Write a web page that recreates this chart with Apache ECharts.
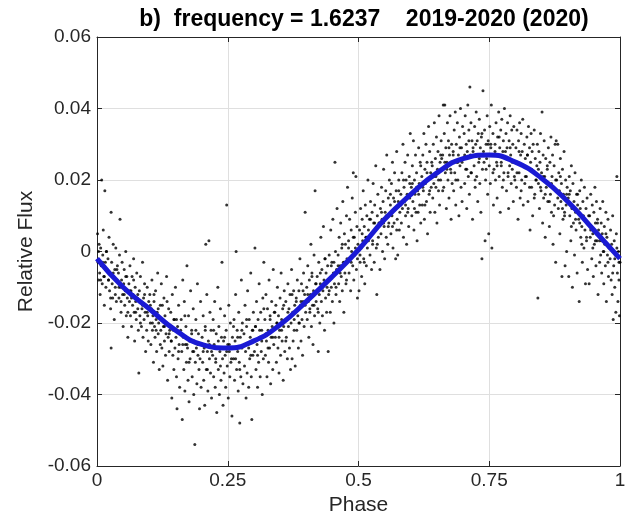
<!DOCTYPE html>
<html>
<head>
<meta charset="utf-8">
<script src="https://cdn.jsdelivr.net/npm/echarts@6/dist/echarts.min.js"></script>
<style>
  html, body { margin: 0; padding: 0; background: #fff; }
  #main-chart-1 { width: 640px; height: 522px; }
</style>
</head>
<body>
<div id="main-chart-1"></div>
<script>
// Eksen ayarlari
const titleText = "b)  frequency = 1.6237    2019-2020 (2020)";
const xTicks = [0, 0.25, 0.5, 0.75, 1];
const yTicks = [-0.06, -0.04, -0.02, 0, 0.02, 0.04, 0.06];

// Fit egrisi (faz, akı)
const fitPhase = [0, 0.05, 0.10, 0.15, 0.20, 0.25, 0.30, 0.35, 0.40, 0.45, 0.50, 0.55, 0.60, 0.65, 0.70, 0.75, 0.80, 0.85, 0.90, 0.95, 1.00];
const fitFlux = [-0.002, -0.010, -0.016, -0.022, -0.026, -0.027, -0.025, -0.0205, -0.014, -0.007, 0.0005, 0.009, 0.016, 0.022, 0.026, 0.027, 0.025, 0.0205, 0.014, 0.006, -0.002];

// Olcum noktalari [faz*1000, akı*1000], ceyrek ceyrek
const obsQ1 = [
  [1,5],[2,-3],[3,-8],[4,2],[5,-6],[6,-12],[7,1],[8,-4],[9,20],[10,-9],[11,-1],[12,6],[13,-7],[14,-15],[15,17],[16,-3],[17,-10],[18,0],[19,-5],
  [21,-2],[22,-8],[23,4],[24,-11],[25,-6],[26,-16],[27,11],[27,-27],[28,-3],[29,-9],[30,-13],[31,2],[32,-7],[33,-19],[34,-5],[35,-10],[36,1],[37,-14],[38,-8],[39,-4],
  [41,-6],[42,-13],[43,-1],[44,9],[45,-10],[46,-17],[47,-8],[48,-3],[49,-12],[50,-21],[51,-9],[52,-5],[53,-15],[54,-11],[55,0],[56,-18],[57,-7],[58,-13],[59,-24],
  [61,-9],[62,-14],[63,-4],[64,-18],[65,-11],[66,-21],[67,-7],[68,-15],[69,-12],[70,-2],[71,-17],[72,-25],[73,-10],[74,-14],[75,-19],[76,-6],[77,-13],[78,-16],[79,-22],[80,-34],
  [81,-11],[82,-18],[83,-7],[84,-14],[85,-21],[86,-16],[87,-3],[88,-24],[89,-13],[90,-19],[91,-9],[92,-17],[93,-28],[94,-15],[95,-22],[96,-10],[97,-18],[98,-25],[99,-14],
  [101,-12],[102,-20],[103,-26],[104,-16],[105,-8],[106,-22],[107,-18],[108,-31],[109,-14],[110,-21],[111,-24],[112,-11],[113,-19],[114,-28],[115,-17],[116,-6],[117,-23],[118,-20],[119,-33],
  [121,-15],[122,-22],[123,-9],[124,-27],[125,-19],[126,-32],[127,-21],[128,-13],[129,-25],[130,-18],[131,-29],[132,-23],[133,-7],[134,-20],[135,-36],[136,-24],[137,-16],[138,-28],[139,-22],
  [141,-17],[142,-25],[143,-41],[144,-12],[145,-29],[146,-22],[147,-33],[148,-19],[149,-27],[150,-10],[151,-24],[152,-35],[153,-44],[154,-21],[155,-30],[156,-15],[157,-26],[158,-38],[159,-23],
  [161,-19],[162,-28],[163,-47],[164,-8],[165,-24],[166,-33],[167,-14],[168,-39],[169,-26],[170,-21],[171,-31],[172,-4],[173,-27],[174,-36],[175,-18],[176,-42],[177,-25],[178,-30],[179,-11],
  [181,-22],[182,-35],[183,-28],[184,-16],[185,-40],[186,-25],[187,-54],[188,-31],[189,-19],[190,-27],[191,-37],[192,-9],[193,-29],[194,-23],[195,-33],[196,-44],[197,-26],[198,-14],[199,-38],
  [201,-24],[202,-31],[203,-18],[204,-36],[205,-27],[206,-43],[207,-21],[208,2],[209,-33],[210,-12],[211,-28],[212,-39],[213,-25],[214,3],[215,-30],[216,-17],[217,-34],[218,-22],[219,-41],
  [221,-29],[222,-19],[223,-35],[224,-26],[225,-14],[226,-38],[227,-31],[228,-23],[229,-45],[230,-27],[231,-10],[232,-33],[233,-21],[234,-40],[235,-28],[236,-16],[237,-36],[238,-24],[239,-3],[240,-30],[241,-43],
  [242,-25],[243,-34],[244,-18],[245,-29],[246,-38],[247,-22],[248,13],[249,-32]
];
const obsQ2 = [
  [250,-26],[251,-41],[252,-15],[253,-28],[254,-35],[255,-20],[256,-31],[257,-27],[258,-46],[259,-24],
  [261,-30],[262,-19],[263,-36],[264,-25],[265,-12],[266,0],[267,-33],[268,-22],[269,-28],[270,-39],[271,-17],[272,-31],[273,-48],[274,-24],[275,-35],[276,-8],[277,-27],[278,-20],[279,-37],
  [281,-23],[282,-32],[283,-15],[284,-28],[285,-41],[286,-21],[287,-34],[288,-11],[289,-26],[290,-38],[291,-19],[292,-30],[293,-24],[294,-6],[295,-35],[296,-47],[297,-22],[298,-29],[299,-17],
  [301,-28],[302,1],[303,-21],[304,-33],[305,-14],[306,-26],[307,-38],[308,-19],[309,-31],[310,-9],[311,-24],[312,-35],[313,-17],[314,-28],[315,-22],[316,-40],[317,-13],[318,-30],[319,-3],
  [321,-19],[322,-29],[323,-12],[324,-25],[325,-35],[326,-16],[327,-22],[328,-31],[329,-8],[330,-27],[331,-18],[332,-37],[333,-24],[334,-14],[335,-21],[336,-33],[337,-5],[338,-26],[339,-17],
  [341,-24],[342,-15],[343,-31],[344,-20],[345,-10],[346,-27],[347,-18],[348,-34],[349,-22],[350,-13],[351,-29],[352,-6],[353,-19],[354,-25],[355,-16],[356,-36],[357,-21],[358,-11],[359,-28],
  [361,-14],[362,-24],[363,-19],[364,-30],[365,-9],[366,-21],[367,-16],[368,-27],[369,-12],[370,-33],[371,-20],[372,-5],[373,-30],[374,-17],[375,-25],[376,-11],[377,-22],[378,-15],[379,-32],
  [381,-13],[382,-22],[383,-8],[384,-18],[385,-27],[386,-11],[387,-20],[388,-2],[389,-15],[390,-25],[391,-9],[392,-19],[393,-29],[394,-14],[395,-6],[396,-21],[397,-12],[398,11],[399,-17],
  [401,-10],[402,-19],[403,-4],[404,-14],[405,-24],[406,-8],[407,-17],[408,-12],[409,2],[410,-21],[411,-6],[412,-15],[413,-26],[414,-11],[415,-1],[416,-18],[417,17],[418,-9],[419,-14],
  [421,-7],[422,-16],[423,-28],[424,-3],[425,-12],[426,-20],[427,-9],[428,4],[429,-14],[430,-5],[431,-18],[432,-11],[433,7],[434,-8],[435,-22],[436,-2],[437,-13],[438,-6],[439,-17],
  [441,-4],[442,-28],[443,-12],[444,-1],[445,-8],[446,-17],[447,6],[448,-10],[449,-3],[450,-14],[451,9],[452,-6],[453,-20],[454,-9],[455,25],[456,0],[457,-12],[458,-5],[459,12],
  [461,-1],[462,-9],[463,4],[464,-14],[465,-4],[466,8],[467,-7],[468,1],[469,-11],[470,14],[471,-3],[472,-17],[473,5],[474,-6],[475,2],[476,-9],[477,10],[478,-2],[479,18],
  [481,3],[482,-6],[483,9],[484,-2],[485,-11],[486,6],[487,0],[488,15],[489,-4],[490,22],[491,-8],[492,4],[493,-1],[494,11],[495,21],[496,-5],[497,7],[498,-13],[499,2]
];
const obsQ3 = [
  [501,-11],[502,6],[503,-3],[504,12],[505,1],[506,-7],[507,9],[508,3],[509,17],[510,-2],[511,7],[512,-9],[513,13],[514,4],[515,-4],[516,10],[517,1],[518,20],[519,6],
  [521,9],[522,-1],[523,14],[524,5],[525,-5],[526,11],[527,3],[528,19],[529,8],[530,-3],[531,13],[532,6],[533,24],[534,1],[535,-12],[536,10],[537,16],[538,4],[539,8],
  [541,-5],[542,12],[543,5],[544,18],[545,9],[546,0],[547,14],[548,23],[549,7],[550,-2],[551,11],[552,17],[553,4],[554,27],[555,10],[556,2],[557,15],[558,8],[559,20],
  [561,13],[562,5],[563,19],[564,10],[565,25],[566,1],[567,15],[568,8],[569,22],[570,12],[571,-2],[572,17],[573,28],[574,9],[575,-1],[576,14],[577,20],[578,6],[579,11],
  [581,16],[582,8],[583,22],[584,12],[585,30],[586,4],[587,18],[588,14],[589,25],[590,10],[591,20],[592,2],[593,16],[594,27],[595,12],[596,7],[597,21],[598,15],[599,33],
  [601,18],[602,10],[603,24],[604,14],[605,31],[606,6],[607,20],[608,16],[609,27],[610,11],[611,22],[612,3],[613,17],[614,11],[615,29],[616,19],[617,13],[618,25],[619,8],
  [621,21],[622,13],[623,27],[624,17],[625,33],[626,9],[627,23],[628,19],[629,30],[630,14],[631,25],[632,5],[633,20],[634,35],[635,16],[636,28],[637,11],[638,22],[639,18],
  [641,24],[642,15],[643,30],[644,19],[645,36],[646,11],[647,26],[648,21],[649,32],[650,8],[651,23],[652,28],[653,17],[654,38],[655,13],[656,25],[657,20],[658,31],[659,26],
  [661,27],[662,41],[663,18],[664,33],[665,41],[666,22],[667,29],[668,12],[669,25],[670,36],[671,20],[672,31],[673,15],[674,27],[675,38],[676,23],[677,9],[678,30],[679,19],
  [681,28],[682,17],[683,34],[684,22],[685,39],[686,13],[687,30],[688,25],[689,36],[690,20],[691,27],[692,10],[693,32],[694,24],[695,40],[696,18],[697,29],[698,14],[699,35],
  [701,26],[702,33],[703,19],[704,38],[705,23],[706,30],[707,12],[708,28],[709,41],[710,21],[711,34],[712,16],[713,46],[714,27],[715,36],[716,22],[717,31],[718,9],[719,29],
  [721,24],[722,35],[723,18],[724,30],[725,39],[726,21],[727,27],[728,14],[729,33],[730,25],[731,37],[732,19],[733,29],[734,11],[735,32],[736,-2],[737,23],[738,45],[739,28],
  [741,34],[742,3],[743,20],[744,30],[745,26],[746,38],[747,16],[748,31],[749,5]
];
const obsQ4 = [
  [750,24],[751,35],[752,19],[753,29],[754,41],[755,1],[756,27],[757,33],[758,13],[759,23],
  [761,30],[762,20],[763,36],[764,25],[765,15],[766,32],[767,27],[768,39],[769,21],[770,29],[771,11],[772,34],[773,24],[774,37],[775,18],[776,28],[777,31],[778,22],[779,40],
  [781,26],[782,33],[783,17],[784,29],[785,36],[786,21],[787,12],[788,31],[789,24],[790,38],[791,27],[792,19],[793,34],[794,23],[795,30],[796,14],[797,35],[798,25],[799,20],
  [801,29],[802,18],[803,34],[804,25],[805,9],[806,31],[807,22],[808,36],[809,15],[810,27],[811,33],[812,20],[813,28],[814,37],[815,13],[816,24],[817,30],[818,19],[819,26],
  [821,21],[822,32],[823,27],[824,14],[825,35],[826,23],[827,29],[828,6],[829,25],[830,33],[831,18],[832,28],[833,10],[834,30],[835,22],[836,34],[837,16],[838,26],[839,20],
  [841,24],[842,30],[843,-13],[844,19],[845,28],[846,12],[847,25],[848,33],[849,17],[850,22],[851,39],[852,8],[853,27],[854,15],[855,31],[856,21],[857,4],[858,26],[859,18],
  [861,23],[862,14],[863,29],[864,19],[865,7],[866,25],[867,16],[868,32],[869,11],[870,21],[871,27],[872,2],[873,18],[874,24],[875,13],[876,30],[877,-3],[878,31],[879,20],
  [881,30],[882,12],[883,22],[884,17],[885,5],[886,26],[887,14],[888,19],[889,-7],[890,23],[891,9],[892,16],[893,28],[894,11],[895,-4],[896,20],[897,13],[898,0],[899,18],
  [901,15],[902,-7],[903,21],[904,10],[905,17],[906,3],[907,24],[908,12],[909,-10],[910,19],[911,8],[912,14],[913,-1],[914,22],[915,11],[916,6],[917,16],[918,-6],[919,13],
  [921,9],[922,-14],[923,17],[924,12],[925,4],[926,20],[927,7],[928,-3],[929,14],[930,10],[931,1],[932,18],[933,6],[934,-9],[935,12],[936,3],[937,15],[938,-5],[939,8],
  [941,-9],[942,10],[943,4],[944,16],[945,7],[946,-2],[947,13],[948,5],[949,-7],[950,11],[951,2],[952,18],[953,8],[954,-4],[955,14],[956,3],[957,9],[958,-12],[959,6],
  [961,3],[962,12],[963,-1],[964,8],[965,-6],[966,5],[967,14],[968,0],[969,-9],[970,7],[971,2],[972,-4],[973,11],[974,-14],[975,4],[976,-1],[977,9],[978,-7],[979,1],
  [981,-2],[982,6],[983,-8],[984,2],[985,-12],[986,10],[987,-19],[988,-4],[989,3],[990,-10],[991,-1],[992,-17],[993,5],[994,21],[995,-6],[996,-14],[997,0],[998,-8],[999,-18],[1000,-3]
];
// egri cevresindeki yogun noktalar
const obsCore = [
  [3,0],[7,-8],[11,-3],[14,-7],[18,0],[22,-8],[26,-13],[31,-6],[35,-12],[38,-5],[42,-10],[46,-14],
  [52,-12],[55,-7],[59,-17],[63,-11],[66,-13],[70,-8],[74,-17],[78,-12],[83,-20],[87,-15],[91,-12],[96,-17],
  [102,-15],[106,-20],[109,-12],[113,-22],[117,-16],[121,-26],[125,-15],[129,-21],[134,-14],[138,-23],[142,-25],[147,-19],
  [152,-19],[156,-28],[160,-22],[164,-26],[168,-18],[172,-26],[176,-31],[181,-23],[185,-28],[189,-22],[193,-26],[197,-30],
  [203,-28],[207,-22],[211,-33],[215,-26],[219,-28],[223,-22],[227,-30],[232,-25],[236,-32],[240,-27],[244,-24],[248,-28],
  [253,-26],[257,-30],[261,-21],[265,-30],[269,-24],[273,-33],[277,-22],[282,-26],[286,-19],[290,-27],[294,-29],[298,-22],
  [303,-21],[307,-29],[311,-22],[315,-25],[319,-16],[323,-23],[327,-27],[331,-19],[336,-24],[340,-17],[344,-20],[348,-24],
  [353,-22],[357,-15],[361,-25],[365,-17],[369,-18],[373,-12],[377,-19],[381,-14],[386,-20],[390,-14],[394,-11],[398,-15],
  [403,-12],[407,-16],[411,-7],[415,-15],[419,-9],[423,-17],[427,-6],[431,-10],[436,-2],[440,-10],[444,-11],[448,-4],
  [453,-3],[457,-10],[461,-4],[465,-6],[469,2],[473,-3],[477,-8],[481,1],[486,-3],[490,4],[494,1],[498,-2],
  [503,-1],[507,5],[511,-3],[515,4],[519,3],[523,9],[527,2],[531,8],[536,2],[540,8],[544,11],[548,8],
  [553,10],[557,7],[561,16],[565,7],[569,14],[573,6],[577,17],[581,13],[586,20],[590,13],[594,11],[598,19],
  [603,19],[607,12],[611,18],[615,16],[619,24],[623,18],[627,13],[631,22],[636,17],[640,25],[644,21],[648,18],
  [653,20],[657,27],[661,17],[665,25],[669,23],[673,29],[677,22],[681,27],[686,20],[690,25],[694,29],[698,25],
  [703,27],[707,23],[711,31],[715,22],[719,28],[723,20],[727,31],[731,26],[736,33],[740,25],[744,23],[748,30],
  [753,30],[757,22],[761,28],[765,24],[769,32],[773,25],[777,20],[781,28],[786,22],[790,29],[794,25],[798,21],
  [803,22],[807,28],[811,17],[815,24],[819,21],[823,27],[827,18],[831,23],[836,15],[840,20],[844,23],[848,18],
  [853,21],[857,16],[861,24],[865,14],[869,19],[873,10],[877,20],[881,15],[886,21],[890,12],[894,10],[898,16],
  [903,16],[907,7],[911,12],[915,9],[919,16],[923,8],[927,2],[931,9],[936,4],[940,10],[944,6],[948,1],
  [953,3],[957,8],[961,-3],[965,3],[969,0],[973,5],[977,-3],[981,1],[986,-6],[990,-2],[994,1],[998,-3]
];

// binde birlik degerleri gercek birime cevir
const obsPoints = obsQ1.concat(obsQ2, obsQ3, obsQ4, obsCore).map(p => [p[0] / 1000, p[1] / 1000]);
const fitPoints = fitPhase.map((p, i) => [p, fitFlux[i]]);

const FONT = "'Liberation Sans', Arial, Helvetica, sans-serif";
const AXIS_COLOR = "#262626";

const chart = echarts.init(document.getElementById("main-chart-1"), null, { renderer: "canvas" });

// kutu kenarlari icin ortak eksen stili (MATLAB "box on")
const boxAxis = {
    axisLine: { show: true, onZero: false, lineStyle: { color: AXIS_COLOR, width: 1 } },
    axisTick: { show: true, inside: true, length: 5, lineStyle: { color: AXIS_COLOR } },
    axisLabel: { show: false },
    splitLine: { show: false }
};

chart.setOption({
    animation: false,
    backgroundColor: "#ffffff",
    title: {
        text: titleText,
        left: 359,
        textAlign: "center",
        top: 3,
        textStyle: { fontFamily: FONT, fontSize: 23, fontWeight: "bold", color: "#000" }
    },
    grid: { left: 97, right: 20, top: 37, bottom: 56 },
    xAxis: [
        Object.assign({
            type: "value", position: "bottom",
            min: xTicks[0], max: xTicks[xTicks.length - 1], interval: 0.25,
            name: "Phase", nameLocation: "middle", nameGap: 29,
            nameTextStyle: { fontFamily: FONT, fontSize: 21, color: AXIS_COLOR }
        }, boxAxis, {
            axisLabel: { show: true, margin: 5, fontFamily: FONT, fontSize: 19, color: AXIS_COLOR },
            splitLine: { show: true, lineStyle: { color: "#dfdfdf", width: 1 } }
        }),
        Object.assign({
            type: "value", position: "top",
            min: xTicks[0], max: xTicks[xTicks.length - 1], interval: 0.25
        }, boxAxis)
    ],
    yAxis: [
        Object.assign({
            type: "value", position: "left",
            min: yTicks[0], max: yTicks[yTicks.length - 1], interval: 0.02,
            name: "Relative Flux", nameLocation: "middle", nameGap: 54,
            nameTextStyle: { fontFamily: FONT, fontSize: 21, color: AXIS_COLOR }
        }, boxAxis, {
            axisLabel: { show: true, margin: 6, fontFamily: FONT, fontSize: 19, color: AXIS_COLOR },
            splitLine: { show: true, lineStyle: { color: "#dfdfdf", width: 1 } }
        }),
        Object.assign({
            type: "value", position: "right",
            min: yTicks[0], max: yTicks[yTicks.length - 1], interval: 0.02
        }, boxAxis)
    ],
    series: [
        {
            name: "obs",
            type: "scatter",
            data: obsPoints,
            symbol: "circle",
            symbolSize: 3,
            itemStyle: { color: "#000000" },
            z: 2
        },
        {
            name: "fit",
            type: "line",
            data: fitPoints,
            smooth: true,
            showSymbol: false,
            lineStyle: { color: "#1a1ad4", width: 5 },
            z: 3
        }
    ]
});
</script>
</body>
</html>
